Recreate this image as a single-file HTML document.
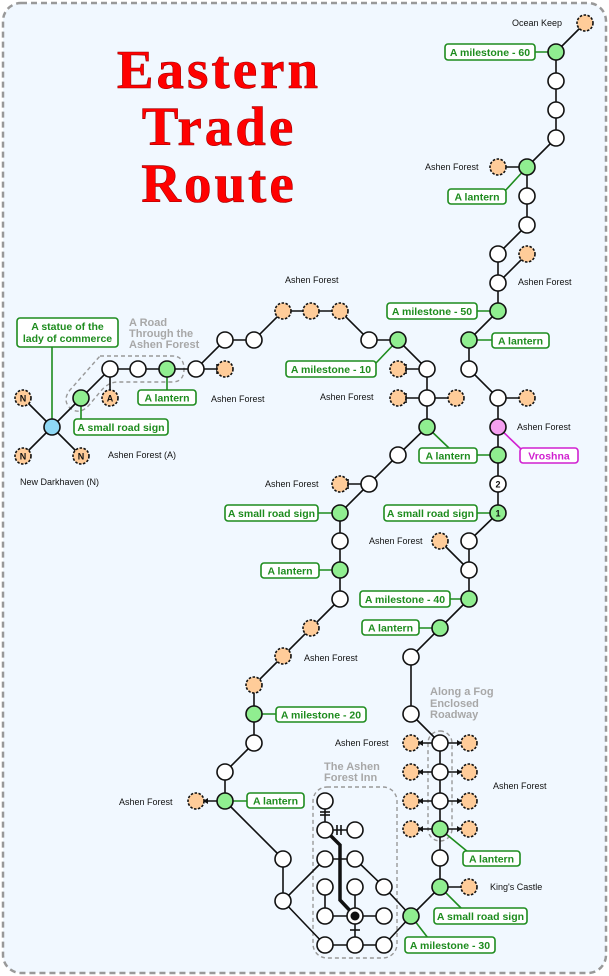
<!DOCTYPE html>
<html><head><meta charset="utf-8"><style>
html,body{margin:0;padding:0;background:#fff;}
svg{display:block;}
.l{font-family:"Liberation Sans",sans-serif;font-size:9px;fill:#111;}
.g{font-family:"Liberation Sans",sans-serif;font-size:10.5px;font-weight:bold;fill:#1e8c1e;}
.t{font-family:"Liberation Sans",sans-serif;font-size:11px;font-weight:bold;fill:#a8a8a8;}
.ttl{font-family:"Liberation Serif",serif;font-weight:bold;font-size:55px;fill:#ff0000;letter-spacing:3px;}
.bx{fill:#fff;stroke:#1e8c1e;stroke-width:1.6;}
</style></head><body>
<svg width="609" height="976" viewBox="0 0 609 976" xmlns="http://www.w3.org/2000/svg">
<rect x="3" y="3" width="603" height="970" rx="18" fill="#f1f8ff" stroke="#999" stroke-width="2.5" stroke-dasharray="6,4"/>
<g class="ttl" text-anchor="middle" stroke="#900" stroke-width="0.6">
<text x="219" y="88">Eastern</text><text x="219" y="145">Trade</text><text x="219" y="202">Route</text></g>
<g fill="none" stroke="#999" stroke-width="1.4" stroke-dasharray="4,3">
<path d="M100,356 L172,356 Q184,356 184,369 Q184,382 172,382 L118,382 Q108,382 100,392 L90,404 Q80,416 70,408 Q62,400 70,390 Z"/>
<rect x="428" y="731" width="24" height="110" rx="12"/>
<rect x="313" y="787" width="84" height="171" rx="14"/>
</g>
<g class="t"><text x="129" y="326">A Road</text><text x="129" y="337">Through the</text><text x="129" y="348">Ashen Forest</text>
<text x="430" y="695">Along a Fog</text><text x="430" y="707">Enclosed</text><text x="430" y="718">Roadway</text>
<text x="324" y="770">The Ashen</text><text x="324" y="781">Forest Inn</text></g>
<g stroke="#111" stroke-width="1.6" fill="none">
<polyline points="585,23 556,52 556,81 556,110 556,138 527,167 527,196 527,225 498,254 498,283 498,311 469,340 469,369 498,398 498,427 498,455 498,484 498,513 469,541 469,570 469,599 440,628 411,657 411,714 440,743 440,772 440,801 440,829 440,858 440,887 411,916"/>
<line x1="527" y1="167" x2="498" y2="167"/><line x1="527" y1="254" x2="498" y2="283"/>
<line x1="498" y1="398" x2="527" y2="398"/><line x1="440" y1="541" x2="469" y2="570"/>
<line x1="440" y1="887" x2="469" y2="887"/>
<polyline points="225,801 225,772 254,743 254,714 254,685 283,656 311,628 340,599 340,570 340,541 340,513 369,484 398,455 427,427 427,398 427,369 398,340 369,340 340,311 311,311 283,311 254,340 225,340 196,369 167,369 138,369 110,369 81,398 52,427"/>
<line x1="225" y1="801" x2="200" y2="801"/>
<line x1="369" y1="484" x2="340" y2="484"/><line x1="427" y1="398" x2="398" y2="398"/><line x1="427" y1="398" x2="456" y2="398"/>
<line x1="427" y1="369" x2="398" y2="369"/><line x1="196" y1="369" x2="225" y2="369"/><line x1="110" y1="369" x2="110" y2="398"/>
<line x1="52" y1="427" x2="23" y2="398"/><line x1="52" y1="427" x2="23" y2="456"/><line x1="52" y1="427" x2="81" y2="456"/>
<line x1="348" y1="479" x2="348" y2="489"/><line x1="406" y1="393" x2="406" y2="403"/><line x1="406" y1="364" x2="406" y2="374"/><line x1="217" y1="364" x2="217" y2="374"/>
<line x1="440" y1="743" x2="418" y2="743"/><line x1="440" y1="743" x2="462" y2="743"/>
<line x1="440" y1="772" x2="418" y2="772"/><line x1="440" y1="772" x2="462" y2="772"/>
<line x1="440" y1="801" x2="418" y2="801"/><line x1="440" y1="801" x2="462" y2="801"/>
<line x1="440" y1="829" x2="418" y2="829"/><line x1="440" y1="829" x2="462" y2="829"/>
<line x1="225" y1="801" x2="283" y2="859"/><line x1="283" y1="859" x2="283" y2="901"/>
<line x1="283" y1="901" x2="325" y2="859"/><line x1="283" y1="901" x2="325" y2="945"/>
<line x1="325" y1="859" x2="355" y2="859"/><line x1="355" y1="859" x2="384" y2="887"/><line x1="384" y1="887" x2="411" y2="916"/>
<polyline points="325,887 325,916 355,916 384,916"/><line x1="355" y1="887" x2="355" y2="945"/>
<polyline points="325,945 355,945 384,945 411,916"/>
<line x1="325" y1="801" x2="325" y2="830"/><line x1="325" y1="830" x2="355" y2="830"/>
<line x1="320" y1="815" x2="330" y2="815"/><line x1="320" y1="812" x2="330" y2="812"/>
<line x1="337" y1="825" x2="337" y2="835"/><line x1="341" y1="825" x2="341" y2="835"/>
<line x1="350" y1="930" x2="360" y2="930"/>
<path d="M325,830 L340,845 L340,900 L355,916" stroke-width="3.5"/>
</g>
<g fill="#111">
<path d="M418,743 l5,-3 v6z"/><path d="M462,743 l-5,-3 v6z"/><path d="M418,772 l5,-3 v6z"/><path d="M462,772 l-5,-3 v6z"/>
<path d="M418,801 l5,-3 v6z"/><path d="M462,801 l-5,-3 v6z"/><path d="M418,829 l5,-3 v6z"/><path d="M462,829 l-5,-3 v6z"/>
<path d="M203,801 l5,-3 v6z"/>
</g>
<g stroke="#1e8c1e" stroke-width="1.6">
<line x1="535" y1="52" x2="556" y2="52"/><line x1="504" y1="192" x2="527" y2="167"/><line x1="477" y1="311" x2="498" y2="311"/>
<line x1="469" y1="340" x2="492" y2="340"/><line x1="376" y1="363" x2="398" y2="340"/><line x1="427" y1="427" x2="450" y2="449"/>
<line x1="477" y1="455" x2="498" y2="455"/>
<line x1="477" y1="513" x2="498" y2="513"/><line x1="318" y1="513" x2="340" y2="513"/><line x1="319" y1="570" x2="340" y2="570"/>
<line x1="450" y1="599" x2="469" y2="599"/><line x1="419" y1="628" x2="440" y2="628"/><line x1="254" y1="714" x2="276" y2="714"/>
<line x1="225" y1="801" x2="247" y2="801"/><line x1="440" y1="829" x2="468" y2="852"/><line x1="440" y1="887" x2="462" y2="909"/>
<line x1="411" y1="916" x2="428" y2="938"/><line x1="167" y1="369" x2="167" y2="390"/><line x1="81" y1="398" x2="81" y2="419"/>
<line x1="52" y1="347" x2="52" y2="427"/>
</g>
<line x1="498" y1="427" x2="522" y2="450" stroke="#d020d0" stroke-width="1.6"/>
<g stroke="#111" stroke-width="1.6">
<g fill="#fff">
<circle cx="556" cy="81" r="8"/><circle cx="556" cy="110" r="8"/><circle cx="556" cy="138" r="8"/><circle cx="527" cy="196" r="8"/><circle cx="527" cy="225" r="8"/>
<circle cx="498" cy="254" r="8"/><circle cx="498" cy="283" r="8"/><circle cx="469" cy="369" r="8"/><circle cx="498" cy="398" r="8"/><circle cx="498" cy="484" r="8"/>
<circle cx="469" cy="541" r="8"/><circle cx="469" cy="570" r="8"/><circle cx="411" cy="657" r="8"/><circle cx="411" cy="714" r="8"/>
<circle cx="440" cy="743" r="8"/><circle cx="440" cy="772" r="8"/><circle cx="440" cy="801" r="8"/><circle cx="440" cy="858" r="8"/>
<circle cx="225" cy="772" r="8"/><circle cx="254" cy="743" r="8"/><circle cx="340" cy="599" r="8"/><circle cx="340" cy="541" r="8"/>
<circle cx="369" cy="484" r="8"/><circle cx="398" cy="455" r="8"/><circle cx="427" cy="398" r="8"/><circle cx="427" cy="369" r="8"/><circle cx="369" cy="340" r="8"/>
<circle cx="254" cy="340" r="8"/><circle cx="225" cy="340" r="8"/><circle cx="196" cy="369" r="8"/><circle cx="138" cy="369" r="8"/><circle cx="110" cy="369" r="8"/>
<circle cx="283" cy="859" r="8"/><circle cx="283" cy="901" r="8"/><circle cx="325" cy="801" r="8"/><circle cx="325" cy="830" r="8"/><circle cx="355" cy="830" r="8"/>
<circle cx="325" cy="859" r="8"/><circle cx="355" cy="859" r="8"/><circle cx="325" cy="887" r="8"/><circle cx="355" cy="887" r="8"/><circle cx="384" cy="887" r="8"/>
<circle cx="325" cy="916" r="8"/><circle cx="355" cy="916" r="8"/><circle cx="384" cy="916" r="8"/><circle cx="325" cy="945" r="8"/><circle cx="355" cy="945" r="8"/><circle cx="384" cy="945" r="8"/>
</g>
<g fill="#90ee90">
<circle cx="556" cy="52" r="8"/><circle cx="527" cy="167" r="8"/><circle cx="498" cy="311" r="8"/><circle cx="469" cy="340" r="8"/><circle cx="498" cy="455" r="8"/>
<circle cx="498" cy="513" r="8"/><circle cx="469" cy="599" r="8"/><circle cx="440" cy="628" r="8"/><circle cx="440" cy="829" r="8"/><circle cx="440" cy="887" r="8"/><circle cx="411" cy="916" r="8"/>
<circle cx="225" cy="801" r="8"/><circle cx="254" cy="714" r="8"/><circle cx="340" cy="570" r="8"/><circle cx="340" cy="513" r="8"/><circle cx="427" cy="427" r="8"/><circle cx="398" cy="340" r="8"/>
<circle cx="167" cy="369" r="8"/><circle cx="81" cy="398" r="8"/>
</g>
<circle cx="498" cy="427" r="8" fill="#f5a0f0"/><circle cx="52" cy="427" r="8" fill="#8fd8f5"/>
<g fill="#ffcc99" stroke-dasharray="2.5,1.5">
<circle cx="585" cy="23" r="8"/><circle cx="498" cy="167" r="8"/><circle cx="527" cy="254" r="8"/><circle cx="527" cy="398" r="8"/><circle cx="440" cy="541" r="8"/>
<circle cx="411" cy="743" r="8"/><circle cx="469" cy="743" r="8"/><circle cx="411" cy="772" r="8"/><circle cx="469" cy="772" r="8"/>
<circle cx="411" cy="801" r="8"/><circle cx="469" cy="801" r="8"/><circle cx="411" cy="829" r="8"/><circle cx="469" cy="829" r="8"/><circle cx="469" cy="887" r="8"/>
<circle cx="196" cy="801" r="8"/><circle cx="254" cy="685" r="8"/><circle cx="283" cy="656" r="8"/><circle cx="311" cy="628" r="8"/><circle cx="340" cy="484" r="8"/>
<circle cx="398" cy="398" r="8"/><circle cx="456" cy="398" r="8"/><circle cx="398" cy="369" r="8"/><circle cx="340" cy="311" r="8"/><circle cx="311" cy="311" r="8"/><circle cx="283" cy="311" r="8"/>
<circle cx="225" cy="369" r="8"/><circle cx="110" cy="398" r="8"/><circle cx="23" cy="398" r="8"/><circle cx="23" cy="456" r="8"/><circle cx="81" cy="456" r="8"/>
</g>
</g>
<circle cx="355" cy="916" r="4.5" fill="#111"/>
<g style="font-family:'Liberation Sans',sans-serif;font-size:9px;font-weight:bold" fill="#111" text-anchor="middle">
<text x="498" y="487.5">2</text><text x="498" y="516.5">1</text><text x="110" y="401.5">A</text>
<text x="23" y="401.5">N</text><text x="23" y="459.5">N</text><text x="81" y="459.5">N</text></g>
<g>
<rect class="bx" x="445" y="44" width="90" height="16" rx="3"/><rect class="bx" x="448" y="189" width="58" height="15" rx="3"/>
<rect class="bx" x="387" y="303" width="90" height="16" rx="3"/><rect class="bx" x="492" y="333" width="57" height="15" rx="3"/>
<rect class="bx" x="286" y="361" width="90" height="16" rx="3"/><rect class="bx" x="419" y="448" width="58" height="15" rx="3"/>
<rect x="520" y="448" width="58" height="15" rx="3" fill="#fff" stroke="#d020d0" stroke-width="1.6"/>
<rect class="bx" x="384" y="505" width="93" height="16" rx="3"/><rect class="bx" x="225" y="505" width="93" height="16" rx="3"/>
<rect class="bx" x="261" y="563" width="58" height="15" rx="3"/><rect class="bx" x="360" y="591" width="90" height="16" rx="3"/>
<rect class="bx" x="362" y="620" width="57" height="15" rx="3"/><rect class="bx" x="276" y="707" width="90" height="15" rx="3"/>
<rect class="bx" x="247" y="793" width="57" height="15" rx="3"/><rect class="bx" x="463" y="851" width="57" height="15" rx="3"/>
<rect class="bx" x="434" y="908" width="93" height="16" rx="3"/><rect class="bx" x="405" y="937" width="90" height="16" rx="3"/>
<rect class="bx" x="17" y="318" width="101" height="29" rx="3"/><rect class="bx" x="138" y="390" width="58" height="15" rx="3"/>
<rect class="bx" x="74" y="419" width="94" height="16" rx="3"/>
</g>
<g class="g" text-anchor="middle">
<text x="490" y="56">A milestone - 60</text><text x="477" y="200.5">A lantern</text><text x="432" y="315">A milestone - 50</text>
<text x="520.5" y="344.5">A lantern</text><text x="331" y="373">A milestone - 10</text><text x="448" y="459.5">A lantern</text>
<text x="549" y="459.5" style="fill:#d020d0">Vroshna</text>
<text x="430.5" y="517">A small road sign</text><text x="271.5" y="517">A small road sign</text><text x="290" y="574.5">A lantern</text>
<text x="405" y="603">A milestone - 40</text><text x="390.5" y="631.5">A lantern</text><text x="321" y="718.5">A milestone - 20</text>
<text x="275.5" y="804.5">A lantern</text><text x="491.5" y="862.5">A lantern</text><text x="480.5" y="920">A small road sign</text>
<text x="450" y="949">A milestone - 30</text><text x="67.5" y="330">A statue of the</text><text x="67.5" y="342">lady of commerce</text>
<text x="167" y="401.5">A lantern</text><text x="121" y="431">A small road sign</text>
</g>
<g class="l">
<text x="512" y="26">Ocean Keep</text><text x="425" y="170">Ashen Forest</text><text x="518" y="285">Ashen Forest</text>
<text x="285" y="283">Ashen Forest</text><text x="211" y="402">Ashen Forest</text><text x="108" y="458">Ashen Forest (A)</text>
<text x="20" y="485">New Darkhaven (N)</text><text x="320" y="400">Ashen Forest</text><text x="517" y="430">Ashen Forest</text>
<text x="265" y="487">Ashen Forest</text><text x="369" y="544">Ashen Forest</text><text x="304" y="661">Ashen Forest</text>
<text x="335" y="746">Ashen Forest</text><text x="493" y="789">Ashen Forest</text><text x="119" y="805">Ashen Forest</text>
<text x="490" y="890">King's Castle</text>
</g>
</svg>
</body></html>
